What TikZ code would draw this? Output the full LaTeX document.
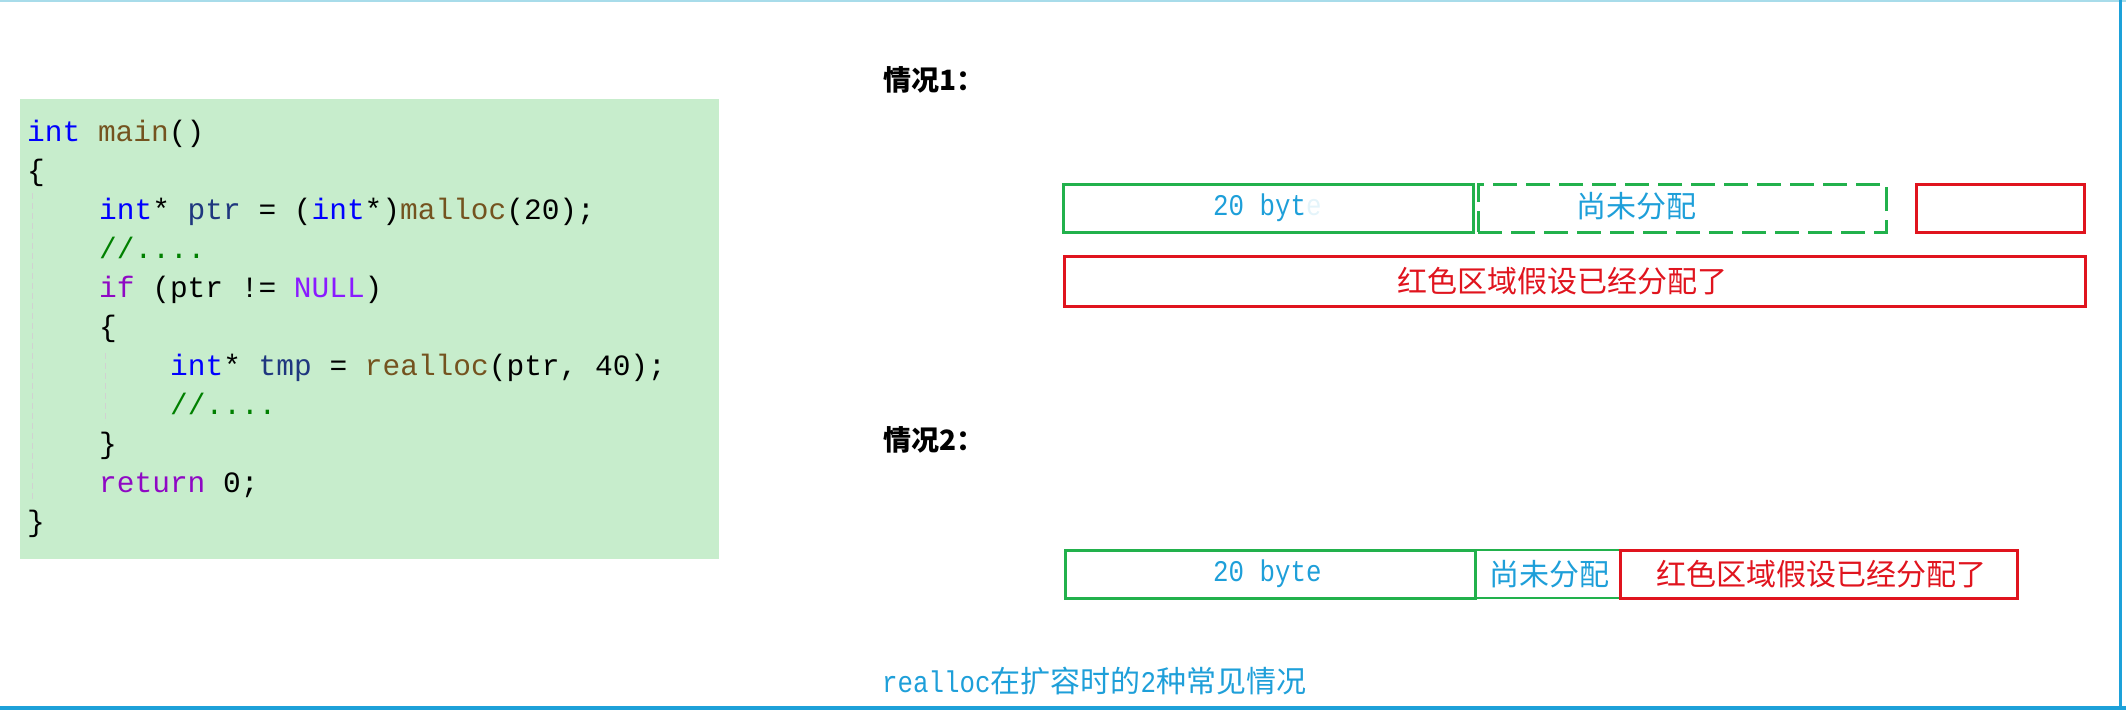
\documentclass[tikz,border=0pt]{standalone}
\usepackage{fontspec}
\newfontfamily\cjkf{Noto Sans CJK SC}
\newfontfamily\monof{Liberation Mono}
\newfontfamily\monon[FakeStretch=0.86]{Liberation Mono}
\definecolor{codebg}{HTML}{C7EDCC}
\definecolor{kwc}{HTML}{0000FF}
\definecolor{fnc}{HTML}{74531F}
\definecolor{cmc}{HTML}{008000}
\definecolor{ctc}{HTML}{8F08C4}
\definecolor{mcc}{HTML}{8A1BFF}
\definecolor{lvc}{HTML}{1F377F}
\definecolor{gline}{HTML}{22B14C}
\definecolor{rline}{HTML}{E0141E}
\definecolor{cyantext}{HTML}{1E9FD9}
\definecolor{frameblue}{HTML}{1DA1D9}
\definecolor{toplight}{HTML}{A8DCEA}
\newcommand{\ckw}[1]{\textcolor{kwc}{#1}}
\newcommand{\cfn}[1]{\textcolor{fnc}{#1}}
\newcommand{\ccm}[1]{\textcolor{cmc}{#1}}
\newcommand{\cct}[1]{\textcolor{ctc}{#1}}
\newcommand{\cmac}[1]{\textcolor{mcc}{#1}}
\newcommand{\clv}[1]{\textcolor{lvc}{#1}}
\begin{document}
\begin{tikzpicture}[x=1pt,y=-1pt,
  codeline/.style={anchor=base west, inner sep=0pt, font=\monof\fontsize{29.5}{35}\selectfont},
  guide/.style={draw=black!18, line width=1pt, dash pattern=on 6pt off 4pt},
  gbox/.style={draw=gline, line width=3pt, inner sep=0pt, minimum height=48pt},
  gdash/.style={draw=gline, line width=3pt, inner sep=0pt, minimum height=48pt, dash pattern=on 24pt off 9pt},
  rbox/.style={draw=rline, line width=3pt, inner sep=0pt},
  cyanmono/.style={inner sep=0pt, text=cyantext, font=\monon\fontsize{30}{34}\selectfont},
  cyancjk/.style={inner sep=0pt, text=cyantext, font=\cjkf\fontsize{30}{34}\selectfont},
  redcjk/.style={inner sep=0pt, text=rline, font=\cjkf\fontsize{30}{34}\selectfont},
  head/.style={inner sep=0pt, anchor=west, font=\cjkf\bfseries\fontsize{28}{32}\selectfont}
]
\useasboundingbox (0,0) rectangle (2126,710);
% frame
\draw[toplight, line width=2pt] (0,1) -- (2126,1);
\draw[frameblue, line width=3pt] (2120.5,0) -- (2120.5,710);
\draw[frameblue, line width=4pt] (0,708) -- (2126,708);

% code panel
\node[fill=codebg, anchor=north west, inner sep=0pt, minimum width=699pt, minimum height=460pt] (bg) at (20,99) {};
\draw[guide] (32,193) -- (32,503);
\draw[guide] (105,353) -- (105,423);
\node[codeline] (l1) at (27,141) {\ckw{int} \cfn{main}()};
\node[codeline] (l2) at (27,180) {\{};
\node[codeline] (l3) at (99,219) {\ckw{int}* \clv{ptr} = (\ckw{int}*)\cfn{malloc}(20);};
\node[codeline] (l4) at (99,258) {\ccm{//....}};
\node[codeline] (l5) at (99,297) {\cct{if} (ptr != \cmac{NULL})};
\node[codeline] (l6) at (99,336) {\{};
\node[codeline] (l7) at (170,375) {\ckw{int}* \clv{tmp} = \cfn{realloc}(ptr, 40);};
\node[codeline] (l8) at (170,414) {\ccm{//....}};
\node[codeline] (l9) at (99,453) {\}};
\node[codeline] (l10) at (99,492) {\cct{return} 0;};
\node[codeline] (l11) at (27,531) {\}};

% case 1
\node[head] (h1) at (883,80) {情况1：};
\node[gbox, minimum width=410pt] (a1) at (1268,208) {};
\node[gdash, minimum width=408pt] (a2) at (1682,208) {};
\node[rbox, minimum width=168pt, minimum height=48pt] (a3) at (2000,208) {};
\node[rbox, minimum width=1021pt, minimum height=50pt] (a4) at (1574.5,281) {};
\node[cyanmono, anchor=west] (t1) at (1213,208) {20 byt\textcolor{cyantext!12}{e}};
\node[cyancjk] (t2) at (1636,206) {尚未分配};
\node[redcjk] (t3) at (1562,281) {红色区域假设已经分配了};

% case 2
\node[head] (h2) at (883,440) {情况2：};
\node[gbox, minimum width=410pt] (b1) at (1270,574) {};
\node[gbox, line width=2.5pt, minimum width=145pt] (b2) at (1547.5,574) {};
\node[rbox, minimum width=397pt, minimum height=48pt] (b3) at (1818.5,574) {};
\node[cyanmono, anchor=west] (u1) at (1213,574) {20 byte};
\node[cyancjk] (u2) at (1549,574) {尚未分配};
\node[redcjk] (u3) at (1821,574) {红色区域假设已经分配了};

% caption
\node[inner sep=0pt, anchor=west, text=cyantext] (cap) at (882,681)
  {{\monon\fontsize{30}{34}\selectfont realloc}{\cjkf\fontsize{30}{34}\selectfont 在扩容时的}{\monon\fontsize{30}{34}\selectfont 2}{\cjkf\fontsize{30}{34}\selectfont 种常见情况}};
\end{tikzpicture}
\end{document}
